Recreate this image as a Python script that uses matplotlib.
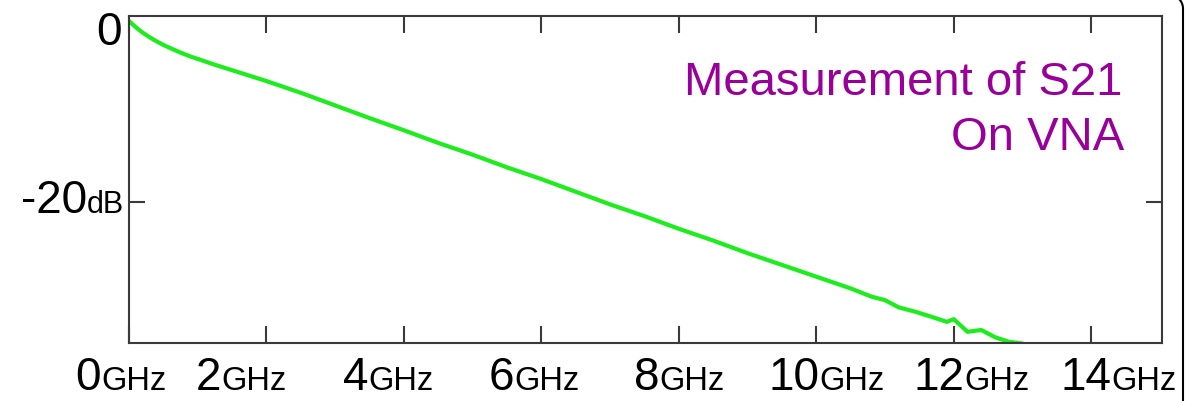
import matplotlib
matplotlib.use("Agg")
import numpy as np
import matplotlib.pyplot as plt
from matplotlib.lines import Line2D
from matplotlib.transforms import IdentityTransform

# Measured insertion loss S21 of the channel (VNA sweep)
freq_ghz = [0.0, 0.1, 0.2, 0.3, 0.4, 0.5, 0.6, 0.75, 0.9, 1.0, 1.25, 1.5,
            1.75, 2.0, 2.5, 3.0, 3.5, 4.0, 4.5, 5.0, 5.5, 6.0, 6.5, 7.0, 7.5,
            8.0, 8.5, 9.0, 9.5, 10.0, 10.5, 10.8, 11.0, 11.2, 11.45, 11.7,
            11.9, 12.0, 12.2, 12.4, 12.6, 12.8, 13.0]
s21_db = [0.0, -0.7, -1.3, -1.8, -2.25, -2.65, -3.0, -3.5, -3.95, -4.2,
          -4.85, -5.45, -6.05, -6.65, -7.95, -9.35, -10.75, -12.1, -13.5,
          -14.8, -16.2, -17.5, -18.9, -20.3, -21.6, -23.0, -24.3, -25.7,
          -27.0, -28.3, -29.6, -30.5, -30.9, -31.7, -32.2, -32.8, -33.3,
          -33.0, -34.4, -34.2, -35.0, -35.5, -35.7]

x_ticks = [0, 2, 4, 6, 8, 10, 12, 14]
x_tick_numbers = ["0", "2", "4", "6", "8", "10", "12", "14"]
x_unit = "GHz"
y_ticks = [-20]
annotation_lines = ["Measurement of S21", "On VNA"]

# label centres (GHz) for the composite number+unit labels
x_label_centres = [-0.12, 1.63, 3.77, 5.89, 8.01, 10.15, 12.26, 14.4]

W, H = 1189, 401
plt.rcParams["font.family"] = ["Liberation Sans", "DejaVu Sans"]
fig = plt.figure(figsize=(W / 100, H / 100), dpi=100)
fig.patch.set_facecolor("white")

ax = fig.add_axes([129 / W, (H - 343) / H, 1033 / W, 327 / H])
ax.plot(freq_ghz, s21_db, color="#1ded1d", lw=3.0,
        solid_joinstyle="round", solid_capstyle="round")
ax.set_xlim(0, 15.03)
ax.set_ylim(-35.64, 0.55)

spine_col = "#3a3a3a"
for sp in ax.spines.values():
    sp.set_color(spine_col)
    sp.set_linewidth(1.5)
ax.set_xticks(x_ticks)
ax.set_yticks(y_ticks)
ax.tick_params(axis="x", direction="in", length=12, width=1.5, color=spine_col,
               top=True, bottom=True, labelbottom=False)
ax.tick_params(axis="y", direction="in", length=11.5, width=1.5, color=spine_col,
               left=True, right=True, labelleft=False)

ident = IdentityTransform()
renderer = fig.canvas.get_renderer()

# x tick labels: big number followed by smaller unit, sharing a baseline
base_x = H - 390
for num, cx_ghz in zip(x_tick_numbers, x_label_centres):
    t_num = fig.text(0, base_x, num, fontsize=33, ha="left", va="baseline",
                     transform=ident, color="black")
    t_unit = fig.text(0, base_x, x_unit, fontsize=23.5, ha="left", va="baseline",
                      transform=ident, color="black")
    w_num = t_num.get_window_extent(renderer).width
    w_unit = t_unit.get_window_extent(renderer).width
    cx = ax.transData.transform((cx_ghz, 0))[0]
    left = cx - (w_num + w_unit) / 2
    t_num.set_x(left)
    t_unit.set_x(left + w_num)

# y tick labels
fig.text(122, H - 45, "0", fontsize=33, ha="right", va="baseline",
         transform=ident, color="black")
t_db = fig.text(124, H - 213, "dB", fontsize=22, ha="right", va="baseline",
                transform=ident, color="black")
db_left = t_db.get_window_extent(renderer).x0
fig.text(db_left, H - 213, "-20", fontsize=33, ha="right", va="baseline",
         transform=ident, color="black")

# annotation
purple = "#990099"
fig.text(1122, H - 95, annotation_lines[0], fontsize=34, ha="right",
         va="baseline", transform=ident, color=purple)
fig.text(1124, H - 150, annotation_lines[1], fontsize=34, ha="right",
         va="baseline", transform=ident, color=purple)

# rounded outer frame edge on the right (pixel coordinates)
r = 14.0
xr, ytop = 1183.0, H + 5.3
theta = np.linspace(0, np.pi / 2, 30)
arc_x = (xr - r) + r * np.cos(theta)
arc_y = (ytop - r) + r * np.sin(theta)
fx = np.concatenate([[xr], arc_x, [xr - 80]])
fy = np.concatenate([[-10], arc_y, [ytop]])
fig.add_artist(Line2D(fx, fy, transform=ident, color="black", lw=1.5,
                      clip_on=False))

fig.savefig("out.png", dpi=100, facecolor="white")
